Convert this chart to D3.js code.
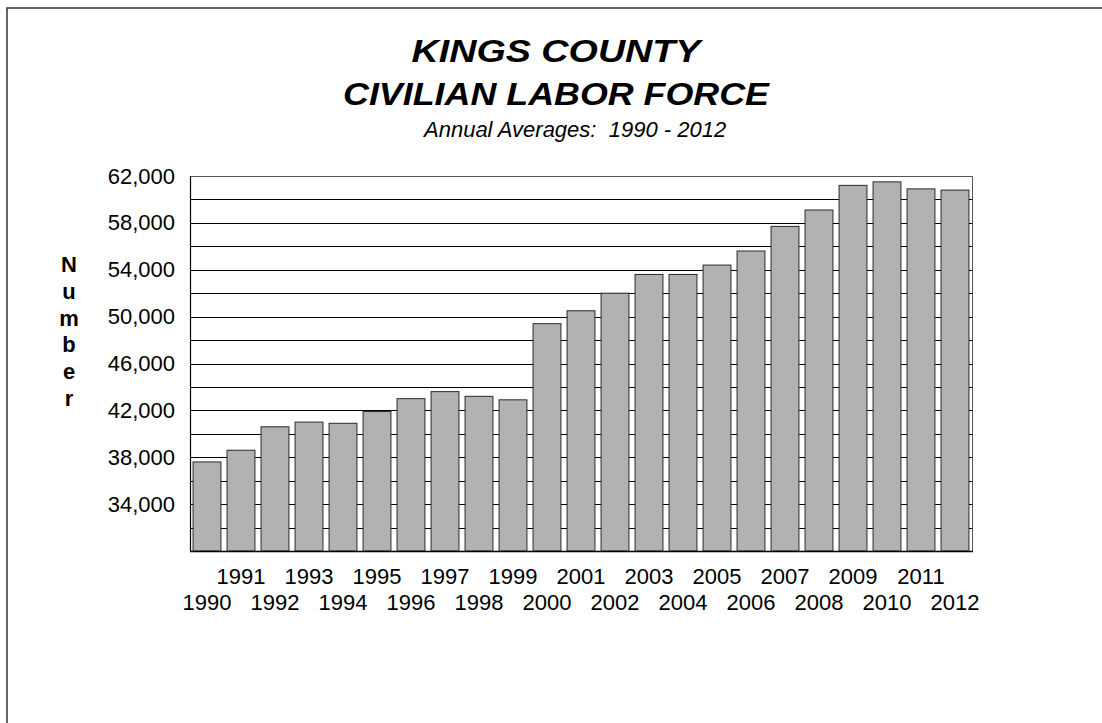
<!DOCTYPE html>
<html>
<head>
<meta charset="utf-8">
<script src="https://cdn.jsdelivr.net/npm/d3@7"></script>
<style>
  html, body { margin: 0; padding: 0; background: #fff; }
  svg { display: block; font-family: "Liberation Sans", Arial, sans-serif; }
</style>
</head>
<body>
<svg id="chart" width="1102" height="723"></svg>
<script>
// Kings County civilian labor force, annual averages
const years = ["1990","1991","1992","1993","1994","1995","1996","1997","1998","1999","2000",
               "2001","2002","2003","2004","2005","2006","2007","2008","2009","2010","2011","2012"];
const laborForce = [37600, 38600, 40600, 41000, 40900, 41900, 43000, 43600, 43200, 42900, 49400,
                    50500, 52000, 53600, 53600, 54400, 55600, 57700, 59100, 61200, 61500, 60900, 60800];
const yTickLabels = [34000, 38000, 42000, 46000, 50000, 54000, 58000, 62000];
const gridValues = [32000, 34000, 36000, 38000, 40000, 42000, 44000, 46000, 48000, 50000,
                    52000, 54000, 56000, 58000, 60000, 62000];
const titleLines = ["KINGS COUNTY", "CIVILIAN LABOR FORCE"];
const subtitle = "Annual Averages:\u00a0 1990 - 2012";
const axisTitle = "Number";

const svg = d3.select("#chart");

// outer frame
svg.append("rect")
  .attr("x", 7).attr("y", 8).attr("width", 1300).attr("height", 900)
  .attr("fill", "none").attr("stroke", "#333").attr("stroke-width", 1.5);

const plot = { left: 190, right: 972, top: 176, bottom: 551 };

const x = d3.scaleBand()
  .domain(years)
  .range([plot.left, plot.right])
  .paddingInner(0.18)
  .paddingOuter(0.09);

const y = d3.scaleLinear()
  .domain([30000, 62000])
  .range([plot.bottom, plot.top]);

// horizontal gridlines
svg.append("g")
  .selectAll("line")
  .data(gridValues)
  .join("line")
  .attr("x1", plot.left).attr("x2", plot.right)
  .attr("y1", d => Math.round(y(d)) + 0.5).attr("y2", d => Math.round(y(d)) + 0.5)
  .attr("stroke", "#000").attr("stroke-width", 1);

// plot frame (right and top edges)
svg.append("path")
  .attr("d", `M${plot.left},${Math.round(plot.top) + 0.5}H${plot.right + 0.5}V${plot.bottom}`)
  .attr("fill", "none").attr("stroke", "#555").attr("stroke-width", 1);

// bars
svg.append("g")
  .selectAll("rect")
  .data(years.map((yr, i) => ({ yr, v: laborForce[i] })))
  .join("rect")
  .attr("x", d => x(d.yr))
  .attr("y", d => y(d.v))
  .attr("width", x.bandwidth())
  .attr("height", d => y(30000) - y(d.v))
  .attr("fill", "#b2b2b2")
  .attr("stroke", "#2a2a2a")
  .attr("stroke-width", 1);

// y axis
const yAxis = d3.axisLeft(y)
  .tickValues(yTickLabels)
  .tickSize(0)
  .tickPadding(15)
  .tickFormat(d3.format(","));
const gy = svg.append("g")
  .attr("transform", `translate(${plot.left},0)`)
  .call(yAxis);
gy.select(".domain").remove();
gy.selectAll("text")
  .attr("font-size", 22)
  .attr("fill", "#000")
  .attr("font-family", "Liberation Sans, Arial, sans-serif");

// axis lines
svg.append("line")
  .attr("x1", plot.left + 0.5).attr("x2", plot.left + 0.5)
  .attr("y1", plot.top).attr("y2", plot.bottom + 1)
  .attr("stroke", "#000").attr("stroke-width", 1.2);
svg.append("line")
  .attr("x1", plot.left).attr("x2", plot.right + 1)
  .attr("y1", plot.bottom + 0.5).attr("y2", plot.bottom + 0.5)
  .attr("stroke", "#000").attr("stroke-width", 1.5);

// x axis labels, staggered on two rows
const xAxis = d3.axisBottom(x).tickSize(0).tickPadding(0);
const gx = svg.append("g")
  .attr("transform", `translate(0,${plot.bottom})`)
  .call(xAxis);
gx.select(".domain").remove();
gx.selectAll("text")
  .attr("font-size", 22)
  .attr("fill", "#000")
  .attr("font-family", "Liberation Sans, Arial, sans-serif")
  .attr("dy", null)
  .attr("y", (d, i) => i % 2 === 1 ? 33 : 59);

// vertical axis title, one letter per line
svg.append("g")
  .selectAll("text")
  .data(axisTitle.split(""))
  .join("text")
  .attr("x", 69)
  .attr("y", (d, i) => 272 + i * 26.8)
  .attr("text-anchor", "middle")
  .attr("font-size", 22)
  .attr("font-weight", "bold")
  .text(d => d);

// titles
const cx = 556;
svg.append("text")
  .attr("x", cx).attr("y", 62)
  .attr("text-anchor", "middle")
  .attr("font-size", 32).attr("font-weight", "bold").attr("font-style", "italic")
  .attr("textLength", 289).attr("lengthAdjust", "spacingAndGlyphs")
  .text(titleLines[0]);
svg.append("text")
  .attr("x", cx).attr("y", 105)
  .attr("text-anchor", "middle")
  .attr("font-size", 32).attr("font-weight", "bold").attr("font-style", "italic")
  .attr("textLength", 426).attr("lengthAdjust", "spacingAndGlyphs")
  .text(titleLines[1]);
svg.append("text")
  .attr("x", 424).attr("y", 137)
  .attr("text-anchor", "start")
  .attr("font-size", 22).attr("font-style", "italic")
  .text(subtitle);
</script>
</body>
</html>
